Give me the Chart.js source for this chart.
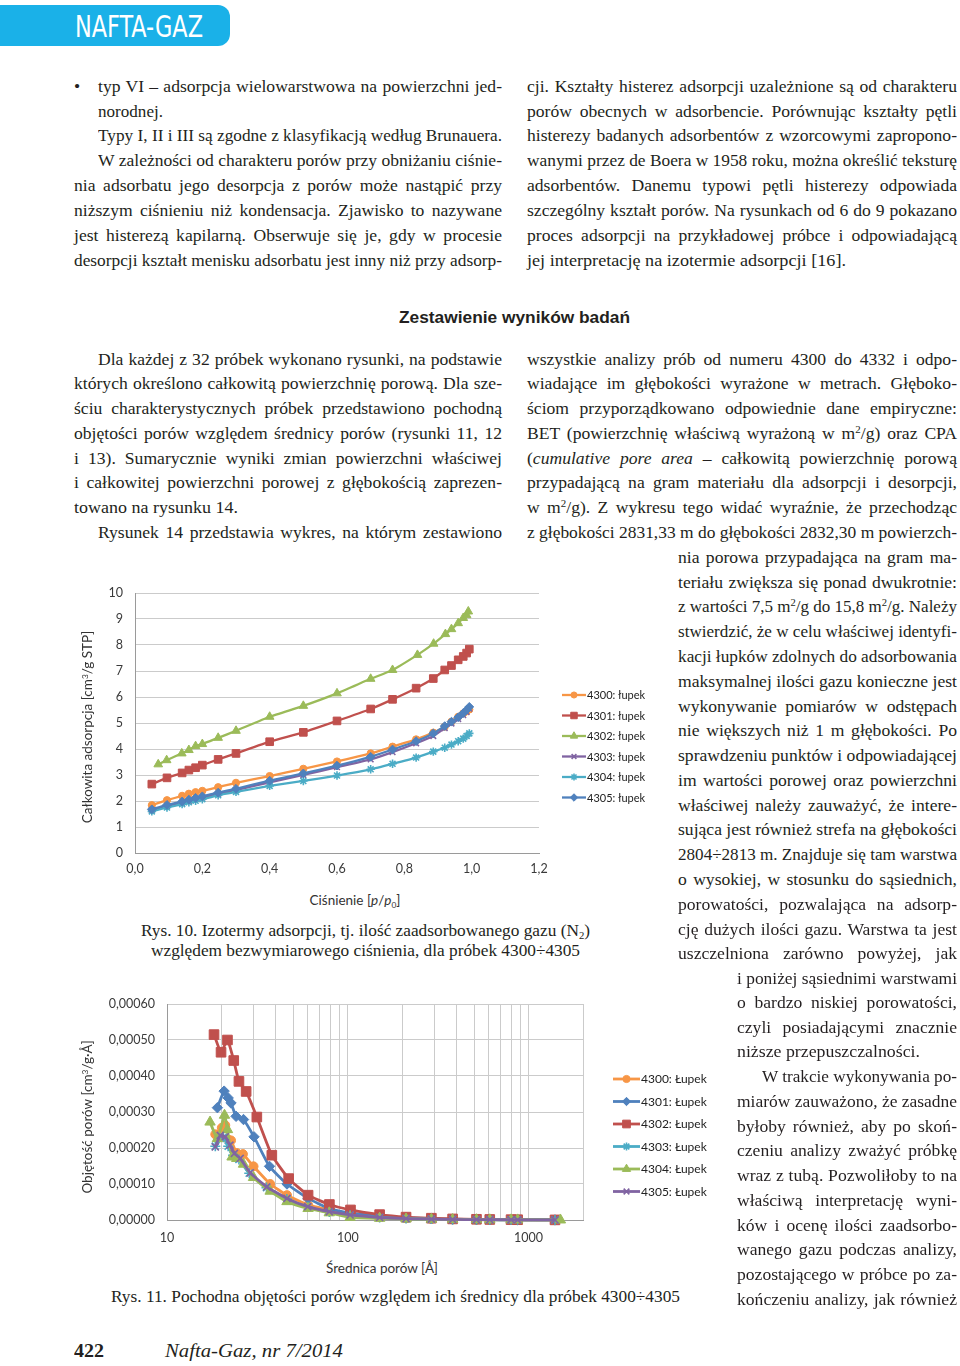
<!DOCTYPE html>
<html lang="pl">
<head>
<meta charset="utf-8">
<title>Nafta-Gaz 7/2014 – Rys. 10 i 11</title>
<script src="https://cdn.jsdelivr.net/npm/chart.js@4.4.1/dist/chart.umd.min.js"></script>
<style>
  html, body { margin: 0; padding: 0; background: #fff; }
  #page { position: relative; width: 960px; height: 1366px; overflow: hidden; font-family: "Liberation Serif", "Times New Roman", serif; color: #231f20; }
  .banner { position: absolute; left: 0; top: 5px; width: 230px; height: 41px; background: #1ab1e8; border-radius: 0 12px 12px 0; }
  .ln { position: absolute; white-space: nowrap; font-size: 17.6px; line-height: 25px; }
  .ln span { white-space: nowrap; }
  .ln.cap { font-size: 16.5px; }
  .ln.head { font-family: "Liberation Sans", Arial, sans-serif; font-weight: bold; font-size: 16.5px; }
  .ln.brand { font-family: "Liberation Sans Narrow", "DejaVu Sans Condensed", "Liberation Sans", sans-serif; font-size: 30px; color: #fff; }
  .ln.foot { font-size: 19px; font-weight: bold; }
  .ln.footi { font-size: 19px; font-style: italic; }
  sup, sub { font-size: 0.62em; vertical-align: 0; position: relative; }
  sup { top: -0.5em; }
  sub { top: 0.3em; }
  canvas { position: absolute; }
  #c1 { left: 65px; top: 580px; }
  #c2 { left: 65px; top: 990px; }
  .axt { position: absolute; white-space: nowrap; font-family: Lato, "Open Sans", sans-serif; font-size: 13.5px; color: #333; transform: translate(-50%, -50%); }
  .axt.rot { transform: translate(-50%, -50%) rotate(-90deg); }
</style>
</head>
<body>
<div id="page">
  <div class="banner"></div>
  <canvas id="c1" width="600" height="300"></canvas>
  <canvas id="c2" width="660" height="262"></canvas>
  <div class="axt" style="left:355px; top:900px;">Ciśnienie [<i>p</i>/<i>p</i><sub>0</sub>]</div>
  <div class="axt rot" style="left:87px; top:727px;">Całkowita adsorpcja [cm<sup>3</sup>/g STP]</div>
  <div class="axt" style="left:382px; top:1268px;">Średnica porów [Å]</div>
  <div class="axt rot" style="left:87px; top:1117px;">Objętość porów [cm<sup>3</sup>/g·Å]</div>
</div>
<script>
// Rys. 10 – izotermy adsorpcji (x: p/p0, y: cm3/g STP)
const pressure = [0.05, 0.095, 0.14, 0.16, 0.18, 0.20, 0.247, 0.30, 0.40, 0.50, 0.60, 0.70, 0.765, 0.835, 0.886, 0.92, 0.94, 0.96, 0.975, 0.985, 0.993];
const pressureGreen = [0.069, 0.094, 0.139, 0.16, 0.18, 0.20, 0.247, 0.30, 0.40, 0.50, 0.60, 0.70, 0.765, 0.839, 0.887, 0.922, 0.94, 0.96, 0.975, 0.985, 0.99];
const ads4300 = [1.84, 2.03, 2.20, 2.28, 2.34, 2.39, 2.53, 2.70, 2.96, 3.24, 3.52, 3.83, 4.09, 4.37, 4.63, 4.86, 5.05, 5.24, 5.37, 5.45, 5.52];
const ads4301 = [2.65, 2.89, 3.08, 3.19, 3.28, 3.38, 3.60, 3.83, 4.28, 4.64, 5.08, 5.54, 5.91, 6.34, 6.71, 7.04, 7.21, 7.43, 7.56, 7.69, 7.84];
const ads4302 = [3.41, 3.57, 3.83, 3.96, 4.11, 4.19, 4.43, 4.70, 5.24, 5.66, 6.14, 6.70, 7.04, 7.62, 8.05, 8.42, 8.61, 8.84, 9.04, 9.15, 9.29];
const ads4303 = [1.65, 1.80, 1.93, 2.00, 2.07, 2.13, 2.27, 2.42, 2.72, 3.00, 3.30, 3.60, 3.88, 4.22, 4.50, 4.80, 4.98, 5.15, 5.30, 5.42, 5.55];
const ads4304 = [1.60, 1.75, 1.88, 1.95, 2.01, 2.07, 2.22, 2.35, 2.58, 2.77, 2.98, 3.22, 3.43, 3.67, 3.90, 4.05, 4.17, 4.30, 4.40, 4.50, 4.60];
const ads4305 = [1.68, 1.85, 1.98, 2.05, 2.12, 2.18, 2.32, 2.47, 2.78, 3.06, 3.36, 3.70, 3.98, 4.30, 4.60, 4.88, 5.05, 5.22, 5.38, 5.50, 5.62];
const legend1 = ['4300: łupek', '4301: łupek', '4302: łupek', '4303: łupek', '4304: łupek', '4305: łupek'];

// Rys. 11 – pochodna objętości porów (x: średnica [Å], y: cm3/g·Å)
const diam4300 = [18.5, 20.1, 21.0, 21.9, 22.6, 24.3, 26.3, 30.1, 37.2, 46.1, 60.3, 79, 103, 150, 210, 290, 380, 515, 610, 800, 870, 1400];
const vol4300 = [0.000238, 0.000256, 0.000263, 0.000223, 0.000221, 0.000186, 0.000183, 0.000149, 0.000100, 0.000069, 0.000042, 0.000028, 0.000016, 0.000008, 0.000005, 0.000003, 0.000002, 0.0000012, 0.000001, 0.0000007, 0.0000005, 0.0000002];
const diam4301 = [19.0, 20.7, 21.8, 22.6, 24.1, 26.5, 30.3, 36.9, 46.1, 60.3, 79, 103, 150, 210, 290, 380, 515, 610, 800, 870, 1400];
const vol4301 = [0.000312, 0.000358, 0.000339, 0.000325, 0.000288, 0.000279, 0.000231, 0.000149, 0.000100, 0.000060, 0.000032, 0.000020, 0.000011, 0.0000065, 0.000004, 0.0000025, 0.0000015, 0.000001, 0.0000008, 0.0000006, 0.0000002];
const diam4302 = [18.2, 19.9, 21.6, 23.4, 25.0, 27.4, 31.4, 38.0, 47.1, 60.3, 79.1, 103.5, 150, 210, 290, 380, 515, 610, 800, 870, 1400];
const vol4302 = [0.000515, 0.000466, 0.000500, 0.000443, 0.000385, 0.000357, 0.000286, 0.000180, 0.000115, 0.000069, 0.000043, 0.000028, 0.000015, 0.000008, 0.000005, 0.000003, 0.000002, 0.0000015, 0.000001, 0.0000008, 0.0000003];
const diam4303 = [18.5, 20.5, 21.8, 23.2, 25.0, 28.5, 35.5, 46, 60, 79, 103, 150, 210, 290, 380, 515, 610, 800, 870, 1400];
const vol4303 = [0.000205, 0.000230, 0.000205, 0.000180, 0.000168, 0.000130, 0.000090, 0.000058, 0.000036, 0.000022, 0.000013, 0.000007, 0.000004, 0.0000025, 0.0000015, 0.000001, 0.0000008, 0.0000005, 0.0000004, 0.0000001];
const diam4304 = [17.3, 19.0, 20.8, 21.6, 22.9, 24.3, 26.5, 30.1, 37.2, 46.1, 60.3, 79, 103, 150, 210, 290, 380, 515, 610, 800, 870, 1500];
const vol4304 = [0.000272, 0.000226, 0.000291, 0.000251, 0.000175, 0.000171, 0.000155, 0.000118, 0.000080, 0.000051, 0.000032, 0.000020, 0.0000074, 0.0000046, 0.000003, 0.000002, 0.0000012, 0.0000008, 0.0000006, 0.0000004, 0.0000003, 0.0000001];
const diam4305 = [18.5, 19.7, 21.0, 22.3, 23.6, 25.4, 28.9, 35.6, 46.1, 60, 79, 103, 150, 210, 290, 380, 515, 610, 800, 870, 1400];
const vol4305 = [0.000203, 0.000235, 0.000231, 0.000208, 0.000185, 0.000171, 0.000131, 0.000092, 0.000060, 0.000037, 0.000023, 0.000014, 0.000007, 0.000004, 0.0000025, 0.0000015, 0.000001, 0.0000008, 0.0000005, 0.0000004, 0.0000001];
const legend2 = ['4300: Łupek', '4301: Łupek', '4302: Łupek', '4303: Łupek', '4304: Łupek', '4305: Łupek'];
const diamGrid = [10, 20, 30, 40, 50, 60, 70, 80, 90, 100, 200, 300, 400, 500, 600, 700, 800, 900, 1000, 2000];
const diamLabels = [10, 100, 1000];
const volTicks = [0, 0.0001, 0.0002, 0.0003, 0.0004, 0.0005, 0.0006];

// kolory Excela
const ORANGE = '#f79646', RED = '#c0504d', GREEN = '#9bbb59', PURPLE = '#8064a2', AQUA = '#4bacc6', BLUE = '#4f81bd';
const GRID = '#cbcbcb', AXIS = '#9a9a9a', TICK = '#3a3a3a';

// ---- tekst strony: [x, środek y, szerokość, tryb, html, klasa]
const textLines = [
  [75, 28.6, 128, 's', 'NAFTA-GAZ', 'brand'],
  [74, 88, 0, 'l', '•'],
  [98, 88, 404, 'j', 'typ VI – adsorpcja wielowarstwowa na powierzchni jed-'],
  [98, 113, 65, 's', 'norodnej.'],
  [98, 137, 404, 'j', 'Typy I, II i III są zgodne z klasyfikacją według Brunauera.'],
  [98, 162, 404, 'j', 'W zależności od charakteru porów przy obniżaniu ciśnie-'],
  [74, 187, 428, 'j', 'nia adsorbatu jego desorpcja z porów może nastąpić przy'],
  [74, 212, 428, 'j', 'niższym ciśnieniu niż kondensacja. Zjawisko to nazywane'],
  [74, 237, 428, 'j', 'jest histerezą kapilarną. Obserwuje się je, gdy w procesie'],
  [74, 262, 428, 'j', 'desorpcji kształt menisku adsorbatu jest inny niż przy adsorp-'],
  [527, 88, 430, 'j', 'cji. Kształty histerez adsorpcji uzależnione są od charakteru'],
  [527, 113, 430, 'j', 'porów obecnych w adsorbencie. Porównując kształty pętli'],
  [527, 137, 430, 'j', 'histerezy badanych adsorbentów z wzorcowymi zapropono-'],
  [527, 162, 430, 'j', 'wanymi przez de Boera w 1958 roku, można określić teksturę'],
  [527, 187, 430, 'j', 'adsorbentów. Danemu typowi pętli histerezy odpowiada'],
  [527, 212, 430, 'j', 'szczególny kształt porów. Na rysunkach od 6 do 9 pokazano'],
  [527, 237, 430, 'j', 'proces adsorpcji na przykładowej próbce i odpowiadającą'],
  [527, 262, 319, 's', 'jej interpretację na izotermie adsorpcji [16].'],
  [399, 319, 231, 's', 'Zestawienie wyników badań', 'head'],
  [98, 361, 404, 'j', 'Dla każdej z 32 próbek wykonano rysunki, na podstawie'],
  [74, 385, 428, 'j', 'których określono całkowitą powierzchnię porową. Dla sze-'],
  [74, 410, 428, 'j', 'ściu charakterystycznych próbek przedstawiono pochodną'],
  [74, 435, 428, 'j', 'objętości porów względem średnicy porów (rysunki 11, 12'],
  [74, 460, 428, 'j', 'i 13). Sumarycznie wyniki zmian powierzchni właściwej'],
  [74, 484, 428, 'j', 'i całkowitej powierzchni porowej z głębokością zaprezen-'],
  [74, 509, 164, 's', 'towano na rysunku 14.'],
  [98, 534, 404, 'j', 'Rysunek 14 przedstawia wykres, na którym zestawiono'],
  [527, 361, 430, 'j', 'wszystkie analizy prób od numeru 4300 do 4332 i odpo-'],
  [527, 385, 430, 'j', 'wiadające im głębokości wyrażone w metrach. Głęboko-'],
  [527, 410, 430, 'j', 'ściom przyporządkowano odpowiednie dane empiryczne:'],
  [527, 435, 430, 'j', 'BET (powierzchnię właściwą wyrażoną w m<sup>2</sup>/g) oraz CPA'],
  [527, 460, 430, 'j', '(<i>cumulative pore area</i> – całkowitą powierzchnię porową'],
  [527, 484, 430, 'j', 'przypadającą na gram materiału dla adsorpcji i desorpcji,'],
  [527, 509, 430, 'j', 'w m<sup>2</sup>/g). Z wykresu tego widać wyraźnie, że przechodząc'],
  [527, 534, 430, 'j', 'z głębokości 2831,33 m do głębokości 2832,30 m powierzch-'],
  [678, 559, 279, 'j', 'nia porowa przypadająca na gram ma-'],
  [678, 584, 279, 'j', 'teriału zwiększa się ponad dwukrotnie:'],
  [678, 608, 279, 'j', 'z wartości 7,5 m<sup>2</sup>/g do 15,8 m<sup>2</sup>/g. Należy'],
  [678, 633, 279, 'j', 'stwierdzić, że w celu właściwej identyfi-'],
  [678, 658, 279, 'j', 'kacji łupków zdolnych do adsorbowania'],
  [678, 683, 279, 'j', 'maksymalnej ilości gazu konieczne jest'],
  [678, 708, 279, 'j', 'wykonywanie pomiarów w odstępach'],
  [678, 732, 279, 'j', 'nie większych niż 1 m głębokości. Po'],
  [678, 757, 279, 'j', 'sprawdzeniu punktów i odpowiadającej'],
  [678, 782, 279, 'j', 'im wartości porowej oraz powierzchni'],
  [678, 807, 279, 'j', 'właściwej należy zauważyć, że intere-'],
  [678, 831, 279, 'j', 'sująca jest również strefa na głębokości'],
  [678, 856, 279, 'j', '2804÷2813 m. Znajduje się tam warstwa'],
  [678, 881, 279, 'j', 'o wysokiej, w stosunku do sąsiednich,'],
  [678, 906, 279, 'j', 'porowatości, pozwalająca na adsorp-'],
  [678, 931, 279, 'j', 'cję dużych ilości gazu. Warstwa ta jest'],
  [678, 955, 279, 'j', 'uszczelniona zarówno powyżej, jak'],
  [737, 980, 220, 'j', 'i poniżej sąsiednimi warstwami'],
  [737, 1004, 220, 'j', 'o bardzo niskiej porowatości,'],
  [737, 1029, 220, 'j', 'czyli posiadającymi znacznie'],
  [737, 1053, 183, 's', 'niższe przepuszczalności.'],
  [762, 1078, 195, 'j', 'W trakcie wykonywania po-'],
  [737, 1103, 220, 'j', 'miarów zauważono, że zasadne'],
  [737, 1128, 220, 'j', 'byłoby również, aby po skoń-'],
  [737, 1152, 220, 'j', 'czeniu analizy zważyć próbkę'],
  [737, 1177, 220, 'j', 'wraz z tubą. Pozwoliłoby to na'],
  [737, 1202, 220, 'j', 'właściwą interpretację wyni-'],
  [737, 1227, 220, 'j', 'ków i ocenę ilości zaadsorbo-'],
  [737, 1251, 220, 'j', 'wanego gazu podczas analizy,'],
  [737, 1276, 220, 'j', 'pozostającego w próbce po za-'],
  [737, 1301, 220, 'j', 'kończeniu analizy, jak również'],
  [141, 932, 449, 's', 'Rys. 10. Izotermy adsorpcji, tj. ilość zaadsorbowanego gazu (N<sub>2</sub>)', 'cap'],
  [151, 952, 429, 's', 'względem bezwymiarowego ciśnienia, dla próbek 4300÷4305', 'cap'],
  [111, 1298, 569, 's', 'Rys. 11. Pochodna objętości porów względem ich średnicy dla próbek 4300÷4305', 'cap'],
  [74, 1352, 30, 's', '422', 'foot'],
  [165, 1352, 178, 's', 'Nafta-Gaz, nr 7/2014', 'footi']
];

function fitLine(span, target, mode) {
  if (!target) return;
  const w = span.getBoundingClientRect().width;
  if (mode === 'j' && w < target) {
    const gaps = (span.textContent.match(/ /g) || []).length;
    if (gaps) span.style.wordSpacing = ((target - w) / gaps) + 'px';
  } else if (w > target || mode === 's') {
    span.style.display = 'inline-block';
    span.style.transformOrigin = '0 50%';
    span.style.transform = 'scaleX(' + (target / w) + ')';
  }
}

const page = document.getElementById('page');
textLines.forEach(([x, y, w, mode, html, cls]) => {
  const div = document.createElement('div');
  div.className = 'ln' + (cls ? ' ' + cls : '');
  div.style.left = x + 'px';
  div.style.top = (y - 14.5) + 'px';
  const span = document.createElement('span');
  span.innerHTML = html;
  div.appendChild(span);
  page.appendChild(div);
  fitLine(span, w, mode);
});

// ---- wykresy
Chart.defaults.font.family = 'Lato, "Open Sans", sans-serif';
Chart.defaults.color = TICK;

// legenda z linią i znacznikiem, jak w Excelu
const sideLegend = {
  id: 'sideLegend',
  afterDraw(chart, args, opts) {
    const ctx = chart.ctx;
    ctx.save();
    chart.data.datasets.forEach((ds, i) => {
      const y = opts.y + i * opts.step;
      ctx.strokeStyle = ds.borderColor;
      ctx.lineWidth = opts.lineWidth;
      ctx.beginPath();
      ctx.moveTo(opts.x, y);
      ctx.lineTo(opts.x + opts.len, y);
      ctx.stroke();
      ctx.fillStyle = ds.pointBackgroundColor;
      ctx.strokeStyle = ds.pointBorderColor;
      ctx.lineWidth = ds.pointBorderWidth;
      Chart.helpers.drawPoint(ctx, {
        pointStyle: ds.pointStyle, radius: ds.pointRadius * opts.scale,
        borderWidth: ds.pointBorderWidth, rotation: 0
      }, opts.x + opts.len / 2, y);
      ctx.fillStyle = '#222';
      ctx.font = opts.fontSize + 'px Lato, "Open Sans", sans-serif';
      ctx.textBaseline = 'middle';
      ctx.textAlign = 'left';
      ctx.fillText(ds.label, opts.x + opts.len + 1, y + 0.5);
    });
    ctx.restore();
  }
};

function serie(label, color, style, radius, xs, ys, width, idx, total) {
  const stroked = style === 'crossRot' || style === 'star';
  return {
    label: label,
    data: xs.map((x, i) => ({ x: x, y: ys[i] })),
    showLine: true,
    borderColor: color,
    backgroundColor: color,
    pointBackgroundColor: color,
    pointBorderColor: color,
    pointStyle: style,
    pointRadius: radius,
    pointBorderWidth: stroked ? 1.6 : 1,
    borderWidth: width,
    tension: 0.15,
    clip: false,
    order: total - idx
  };
}

// oś Y o stałej szerokości, bez dodatkowego marginesu nad/pod etykietami
function fixY(width) {
  return s => { s.width = width; s.paddingTop = 0; s.paddingBottom = 0; };
}

const sets1 = [
  serie(legend1[0], ORANGE, 'circle', 3.6, pressure, ads4300, 2.3, 0, 6),
  serie(legend1[1], RED, 'rect', 5.4, pressure, ads4301, 2.3, 1, 6),
  serie(legend1[2], GREEN, 'triangle', 5, pressureGreen, ads4302, 2.3, 2, 6),
  serie(legend1[3], PURPLE, 'crossRot', 4, pressure, ads4303, 2.3, 3, 6),
  serie(legend1[4], AQUA, 'star', 4.2, pressure, ads4304, 2.3, 4, 6),
  serie(legend1[5], BLUE, 'rectRot', 4.4, pressure, ads4305, 2.3, 5, 6)
];

new Chart(document.getElementById('c1'), {
  type: 'scatter',
  data: { datasets: sets1 },
  plugins: [sideLegend],
  options: {
    responsive: false,
    animation: false,
    layout: { padding: { left: 0, right: 126, top: 13, bottom: 0 } },
    plugins: {
      legend: { display: false },
      tooltip: { enabled: false },
      sideLegend: { x: 497, y: 115, step: 20.5, len: 24, lineWidth: 2.3, scale: 0.85, fontSize: 11 }
    },
    scales: {
      x: {
        type: 'linear', min: 0, max: 1.2,
        ticks: { stepSize: 0.2, padding: 8, font: { size: 12.5 }, maxRotation: 0,
          callback: v => v.toFixed(1).replace('.', ',') },
        grid: { display: true, drawOnChartArea: false, drawTicks: false },
        border: { color: AXIS },
        afterFit: s => { s.height = 27; }
      },
      y: {
        min: 0, max: 10,
        ticks: { stepSize: 1, padding: 12, font: { size: 12.5 } },
        grid: { color: GRID, drawTicks: false },
        border: { color: AXIS },
        afterFit: fixY(70)
      }
    }
  }
});

const sets2 = [
  serie(legend2[0], ORANGE, 'circle', 4.5, diam4300, vol4300, 2.8, 0, 6),
  serie(legend2[1], BLUE, 'rectRot', 5.2, diam4301, vol4301, 2.8, 1, 6),
  serie(legend2[2], RED, 'rect', 6.8, diam4302, vol4302, 2.8, 2, 6),
  serie(legend2[3], AQUA, 'star', 5, diam4303, vol4303, 2.8, 3, 6),
  serie(legend2[4], GREEN, 'triangle', 6, diam4304, vol4304, 2.8, 4, 6),
  serie(legend2[5], PURPLE, 'crossRot', 5, diam4305, vol4305, 2.8, 5, 6)
];

new Chart(document.getElementById('c2'), {
  type: 'scatter',
  data: { datasets: sets2 },
  plugins: [sideLegend],
  options: {
    responsive: false,
    animation: false,
    layout: { padding: { left: 0, right: 142, top: 14, bottom: 0 } },
    plugins: {
      legend: { display: false },
      tooltip: { enabled: false },
      sideLegend: { x: 548, y: 89, step: 22.5, len: 27, lineWidth: 2.8, scale: 0.8, fontSize: 12 }
    },
    scales: {
      x: {
        type: 'logarithmic', min: 10, max: 2000,
        afterBuildTicks: s => { s.ticks = diamGrid.map(v => ({ value: v })); },
        ticks: { autoSkip: false, maxRotation: 0, padding: 10, font: { size: 12.5 },
          callback: v => diamLabels.includes(v) ? String(v) : '' },
        grid: { color: GRID, drawTicks: false },
        border: { color: AXIS },
        afterFit: s => { s.height = 32; }
      },
      y: {
        min: 0, max: 0.0006,
        afterBuildTicks: s => { s.ticks = volTicks.map(v => ({ value: v })); },
        ticks: { padding: 12, font: { size: 12.5 },
          callback: v => v.toFixed(5).replace('.', ',') },
        grid: { color: GRID, drawTicks: false },
        border: { color: AXIS },
        afterFit: fixY(102)
      }
    }
  }
});
</script>
</body>
</html>
